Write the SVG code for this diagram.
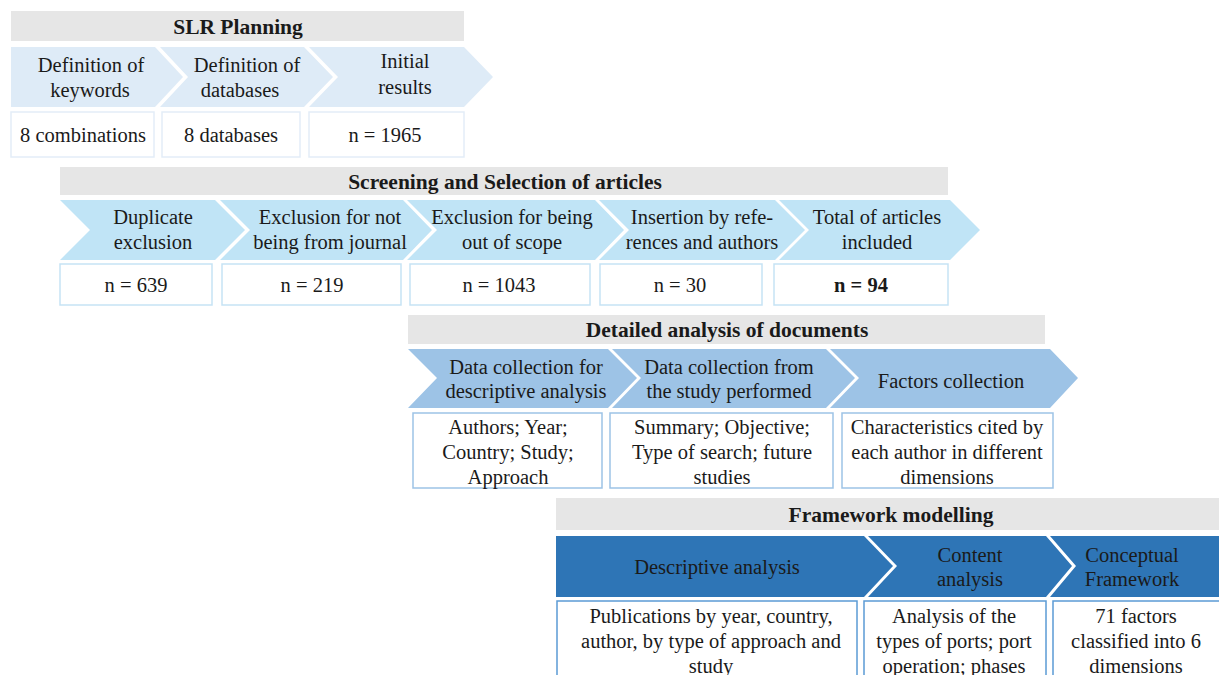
<svg xmlns="http://www.w3.org/2000/svg" width="1219" height="675" viewBox="0 0 1219 675">
<style>
text{font-size:20.5px;fill:#1a1a1a;text-anchor:middle}
.h{font-weight:bold;font-size:21.5px}
.hdr{fill:#e6e6e6}
.c1{fill:#deebf7}
.c2{fill:#c0e4f6}
.c3{fill:#9dc3e6}
.c4{fill:#2e75b6}
.b1{fill:#fff;stroke:#e3edf8;stroke-width:1.5}
.b2{fill:#fff;stroke:#c6e3f5;stroke-width:1.5}
.b3{fill:#fff;stroke:#9dc3e6;stroke-width:1.5}
.b4{fill:#fff;stroke:#5b9bd5;stroke-width:1.5}
</style>
<rect width="1219" height="675" fill="#fff"/>
<g font-family="Liberation Serif, Times New Roman, serif">
<g id="slr-planning">
<rect class="hdr" x="11" y="11" width="453" height="30"/>
<text class="h" x="238" y="34">SLR Planning</text>
<polygon class="c1" points="11,47 155,47 183,77 155,107 11,107"/>
<polygon class="c1" points="160,47 304,47 333,77 304,107 160,107 188,77"/>
<polygon class="c1" points="309,47 464,47 493,77 464,107 309,107 338,77"/>
<text x="91" y="72">Definition of</text><text x="90" y="97">keywords</text>
<text x="247" y="72">Definition of</text><text x="240" y="97">databases</text>
<text x="405" y="68">Initial</text><text x="405" y="94">results</text>
<rect class="b1" x="11" y="112" width="143" height="45"/>
<rect class="b1" x="162" y="112" width="138" height="45"/>
<rect class="b1" x="309" y="112" width="155" height="45"/>
<text x="83" y="142">8 combinations</text>
<text x="231" y="142">8 databases</text>
<text x="385" y="142">n = 1965</text>
</g>
<g id="screening">
<rect class="hdr" x="60" y="167" width="888" height="28"/>
<text class="h" x="505" y="189">Screening and Selection of articles</text>
<polygon class="c2" points="60,200 215,200 245,230 215,260 60,260 90,230"/>
<polygon class="c2" points="220,200 403,200 432,230 403,260 220,260 250,230"/>
<polygon class="c2" points="407,200 595,200 624,230 595,260 407,260 437,230"/>
<polygon class="c2" points="599,200 775,200 805,230 775,260 599,260 629,230"/>
<polygon class="c2" points="779,200 950,200 980,230 950,260 779,260 809,230"/>
<text x="153" y="224">Duplicate</text><text x="153" y="249">exclusion</text>
<text x="330" y="224">Exclusion for not</text><text x="330" y="249">being from journal</text>
<text x="512" y="224">Exclusion for being</text><text x="512" y="249">out of scope</text>
<text x="702" y="224">Insertion by refe-</text><text x="702" y="249">rences and authors</text>
<text x="877" y="224">Total of articles</text><text x="877" y="249">included</text>
<rect class="b2" x="60" y="264" width="152" height="41"/>
<rect class="b2" x="222" y="264" width="179" height="41"/>
<rect class="b2" x="410" y="264" width="180" height="41"/>
<rect class="b2" x="600" y="264" width="162" height="41"/>
<rect class="b2" x="774" y="264" width="174" height="41"/>
<text x="136" y="292">n = 639</text>
<text x="312" y="292">n = 219</text>
<text x="499" y="292">n = 1043</text>
<text x="680" y="292">n = 30</text>
<text x="861" y="292" font-weight="bold">n = 94</text>
</g>
<g id="detailed-analysis">
<rect class="hdr" x="408" y="315" width="637" height="29"/>
<text class="h" x="727" y="337">Detailed analysis of documents</text>
<polygon class="c3" points="408,349 608,349 637,378 608,408 408,408 437,378"/>
<polygon class="c3" points="612,349 826,349 855,378 826,408 612,408 641,378"/>
<polygon class="c3" points="830,349 1050,349 1078,378 1050,408 830,408 859,378"/>
<text x="526" y="374">Data collection for</text><text x="526" y="398">descriptive analysis</text>
<text x="729" y="374">Data collection from</text><text x="729" y="398">the study performed</text>
<text x="951" y="388">Factors collection</text>
<rect class="b3" x="413" y="413" width="189" height="75"/>
<rect class="b3" x="610" y="413" width="223" height="75"/>
<rect class="b3" x="842" y="413" width="211" height="75"/>
<text x="508" y="434">Authors; Year;</text><text x="508" y="459">Country; Study;</text><text x="508" y="484">Approach</text>
<text x="722" y="434">Summary; Objective;</text><text x="722" y="459">Type of search; future</text><text x="722" y="484">studies</text>
<text x="947" y="434">Characteristics cited by</text><text x="947" y="459">each author in different</text><text x="947" y="484">dimensions</text>
</g>
<g id="framework-modelling">
<rect class="hdr" x="556" y="498" width="663" height="32"/>
<text class="h" x="891" y="522">Framework modelling</text>
<polygon class="c4" points="556,536 864,536 893,566 864,597 556,597"/>
<polygon class="c4" points="868,536 1046,536 1072,566 1046,597 868,597 897,566"/>
<polygon class="c4" points="1050,536 1219,536 1219,597 1050,597 1076,566"/>
<text x="717" y="574">Descriptive analysis</text>
<text x="970" y="562">Content</text><text x="970" y="586">analysis</text>
<text x="1132" y="562">Conceptual</text><text x="1132" y="586">Framework</text>
<rect class="b4" x="557" y="601" width="300" height="80"/>
<rect class="b4" x="864" y="601" width="182" height="80"/>
<rect class="b4" x="1053" y="601" width="170" height="80"/>
<text x="711" y="623">Publications by year, country,</text><text x="711" y="648">author, by type of approach and</text><text x="711" y="673">study</text>
<text x="954" y="623">Analysis of the</text><text x="954" y="648">types of ports; port</text><text x="954" y="673">operation; phases</text>
<text x="1136" y="623">71 factors</text><text x="1136" y="648">classified into 6</text><text x="1136" y="673">dimensions</text>
</g>
<g id="connectors"/>
</g>
</svg>
